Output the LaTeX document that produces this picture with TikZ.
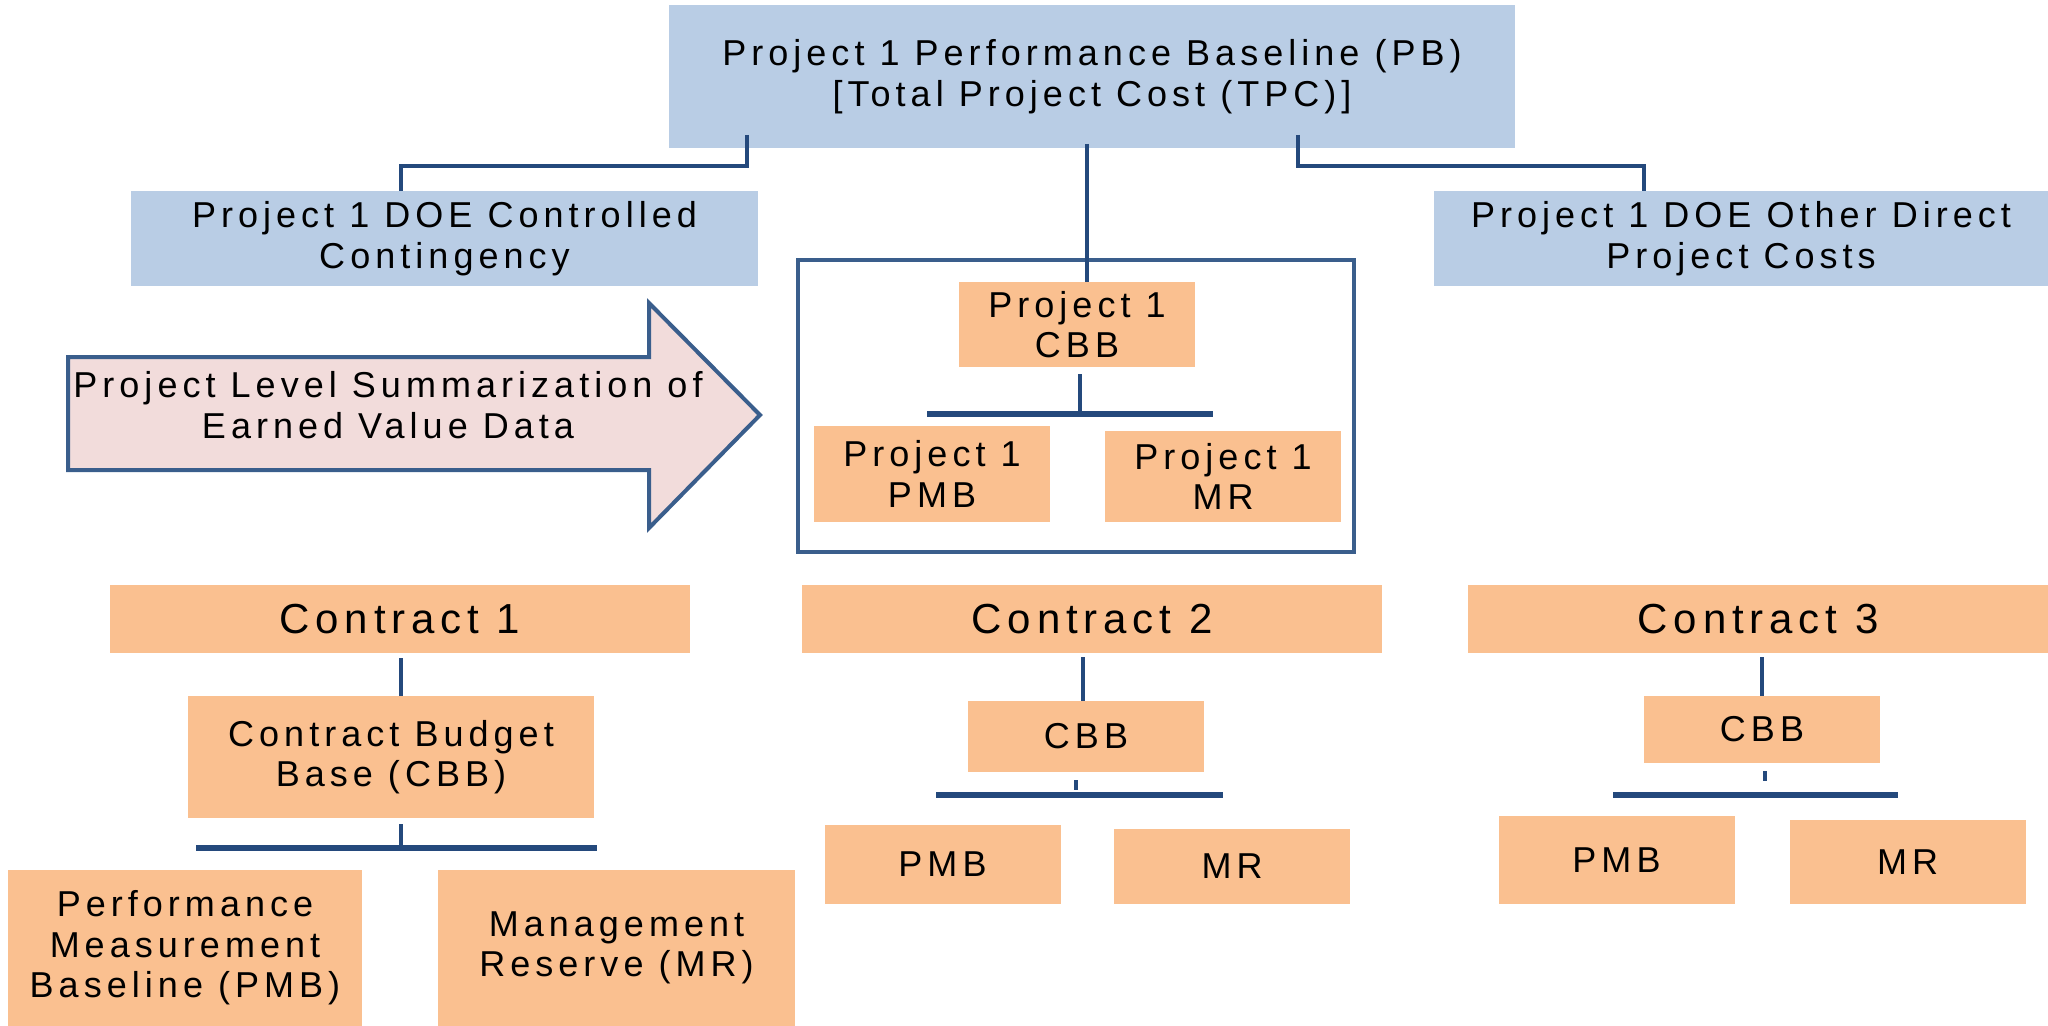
\documentclass[tikz,border=0pt]{standalone}
\usepackage{fontspec}
\setmainfont{Liberation Sans}[LetterSpace=14]
\definecolor{pbblue}{HTML}{B9CDE5}
\definecolor{porange}{HTML}{FAC090}
\definecolor{lineblue}{HTML}{24497C}
\definecolor{edgeblue}{HTML}{3A5E8C}
\definecolor{arrowfill}{HTML}{F2DCDB}
\begin{document}
\begin{tikzpicture}[x=0.5pt,y=-0.5pt,
  box/.style={inner sep=0pt, outer sep=0pt, align=center, font=\fontsize{18}{20.2}\selectfont},
  bbox/.style={box, fill=pbblue},
  obox/.style={box, fill=porange},
  cbox/.style={obox, font=\fontsize{21}{24}\selectfont, minimum width=290pt, minimum height=34pt},
  sbox/.style={obox, font=\fontsize{18}{21}\selectfont, minimum width=118pt},
  conn/.style={draw=lineblue, line width=2pt},
  thinconn/.style={draw=lineblue, line width=1.6pt},
  bar/.style={draw=lineblue, line width=2.6pt}]
\useasboundingbox (0,0) rectangle (2048,1026);

% top level
\node[bbox, minimum width=423pt, minimum height=71.5pt] (pb) at (1092,76.5)
  {Project 1 Performance Baseline (PB)\\{[Total Project Cost (TPC)]}};
\node[bbox, minimum width=313.5pt, minimum height=47.5pt] (dl) at (444.5,238.5)
  {Project 1 DOE Controlled\\Contingency};
\node[bbox, minimum width=307pt, minimum height=47.5pt] (dr) at (1741,238.5)
  {Project 1 DOE Other Direct\\Project Costs};

% project level outline
\node[draw=edgeblue, line width=2pt, minimum width=278pt, minimum height=146pt, inner sep=0pt] (outline) at (1076,406) {};
\node[obox, minimum width=118pt, minimum height=42.5pt] (pcbb) at (1077,324.5) {Project 1\\CBB};
\node[obox, minimum width=118pt, minimum height=48pt] (ppmb) at (932,474) {Project 1\\PMB};
\node[obox, minimum width=118pt, minimum height=45.5pt] (pmr) at (1223,476.5) {Project 1\\MR};

% arrow
\draw[draw=edgeblue, fill=arrowfill, line width=2pt, line join=miter]
  (68,357) -- (649,357) -- (649,303) -- (760,415) -- (649,528) -- (649,470) -- (68,470) -- cycle;
\node[box] (arrowtext) at (388,405) {Project Level Summarization of\\Earned Value Data};

% contracts
\node[cbox] (c1) at (400,619) {Contract 1};
\node[cbox] (c2) at (1092,619) {Contract 2};
\node[cbox] (c3) at (1758,619) {Contract 3};

\node[obox, minimum width=203pt, minimum height=61pt] (cbb1) at (391,757) {Contract Budget\\Base (CBB)};
\node[obox, minimum width=177pt, minimum height=78pt] (pmb1) at (185,948) {Performance\\Measurement\\Baseline (PMB)};
\node[obox, minimum width=178.5pt, minimum height=78pt] (mr1) at (616.5,948) {Management\\Reserve (MR)};

\node[sbox, minimum height=35.5pt] (cbb2) at (1086,736.5) {CBB};
\node[sbox, minimum height=39.5pt] (pmb2) at (942.5,864.5) {PMB};
\node[sbox, minimum height=37.5pt] (mr2) at (1232,866.5) {MR};

\node[sbox, minimum height=33.5pt] (cbb3) at (1762,729.5) {CBB};
\node[sbox, minimum height=44pt] (pmb3) at (1616.5,860) {PMB};
\node[sbox, minimum height=42pt] (mr3) at (1907.5,862) {MR};

% connectors
\coordinate (pbl) at (747,135);
\coordinate (dlt) at (401,191);
\coordinate (pbr) at (1298,135);
\coordinate (drt) at (1644,191);
\coordinate (pbm) at (1087,144);
\draw[conn] (pbl) -- ++(0,31) -| (dlt);
\draw[conn] (pbr) -- ++(0,31) -| (drt);
\draw[thinconn] (pbm) -- (pbm |- pcbb.north);

\coordinate (pcbbd) at (1080,374);
\draw[thinconn] (pcbbd) -- ++(0,40);
\draw[bar] (927,414) -- (1213,414);

\coordinate (c1d) at (401,658);
\coordinate (c2d) at (1083,657);
\coordinate (c3d) at (1762,657);
\draw[thinconn] (c1d) -- (c1d |- cbb1.north);
\draw[thinconn] (c2d) -- (c2d |- cbb2.north);
\draw[thinconn] (c3d) -- (c3d |- cbb3.north);

\coordinate (cbb1d) at (401,824);
\draw[thinconn] (cbb1d) -- ++(0,24);
\draw[bar] (196,848) -- (597,848);

\coordinate (cbb2d) at (1076,780);
\draw[thinconn] (cbb2d) -- ++(0,10);
\draw[bar] (936,795) -- (1223,795);

\coordinate (cbb3d) at (1765,771);
\draw[thinconn] (cbb3d) -- ++(0,10);
\draw[bar] (1613,795) -- (1898,795);
\end{tikzpicture}
\end{document}
